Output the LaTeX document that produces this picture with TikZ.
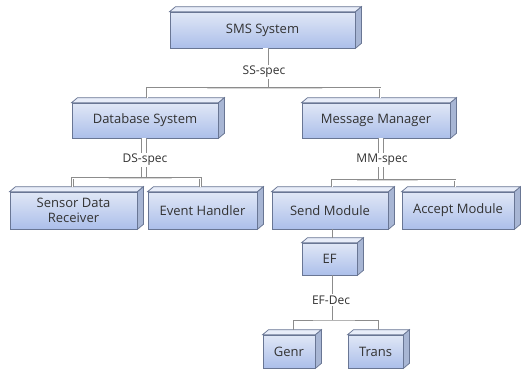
\documentclass[tikz,border=0pt]{standalone}
\usepackage{fontspec}
\setmainfont{Open Sans}
\usetikzlibrary{calc}

\definecolor{cubeline}{RGB}{105,118,148}
\definecolor{cubefronta}{RGB}{224,231,246}
\definecolor{cubefrontb}{RGB}{172,191,234}
\definecolor{cubetop}{RGB}{232,237,249}
\definecolor{cubeside}{RGB}{168,182,212}
\definecolor{wire}{RGB}{140,140,140}
\definecolor{inkgrey}{RGB}{50,50,50}

\tikzset{every picture/.style={line width=0.75pt}}
\tikzset{
  cube/.style={draw=cubeline, top color=cubefronta, bottom color=cubefrontb,
    inner sep=0pt, align=center, text=inkgrey,
    font=\fontsize{13}{15.5}\selectfont},
  speclabel/.style={fill=white, inner sep=1.5pt, text=inkgrey,
    font=\fontsize{12}{14}\selectfont},
  stem/.style={draw=wire, double=white, double distance=4.5pt},
  bus/.style={draw=wire, double=white, double distance=1pt},
  wireline/.style={draw=wire}
}

% top and right faces of a box
\newcommand{\cubefaces}[1]{%
  \filldraw[draw=cubeline, fill=cubeside] (#1.north east) -- ++(6,-5) -- ($(#1.south east)+(6,-5)$) -- (#1.south east) -- cycle;
  \filldraw[draw=cubeline, fill=cubetop] (#1.north west) -- ++(6,-5) -- ($(#1.north east)+(6,-5)$) -- (#1.north east) -- cycle;}

\begin{document}
\begin{tikzpicture}[x=1pt,y=1pt,yscale=-1,xscale=1]
\useasboundingbox (0,0) rectangle (521,372);

%Boxes
\node[cube, minimum width=185pt, minimum height=36pt] (sms) at (262.5,30) {SMS System};
\node[cube, minimum width=146pt, minimum height=35pt] (dbs) at (145,120.5) {Database System};
\node[cube, minimum width=148pt, minimum height=35pt] (mm) at (376,120.5) {Message Manager};
\node[cube, minimum width=127pt, minimum height=37pt] (sdr) at (73.5,210.5) {Sensor Data\\Receiver};
\node[cube, minimum width=109pt, minimum height=37pt] (evh) at (202.5,210.5) {Event Handler};
\node[cube, minimum width=116pt, minimum height=37pt] (send) at (330,210.5) {Send Module};
\node[cube, minimum width=112pt, minimum height=37pt] (accept) at (458,210.5) {Accept Module};
\node[cube, minimum width=55pt, minimum height=32pt] (ef) at (329.5,259) {EF};
\node[cube, minimum width=52pt, minimum height=33pt] (genr) at (289,351.5) {Genr};
\node[cube, minimum width=55pt, minimum height=33pt] (trans) at (375.5,351.5) {Trans};

\cubefaces{sms}
\cubefaces{dbs}
\cubefaces{mm}
\cubefaces{sdr}
\cubefaces{evh}
\cubefaces{send}
\cubefaces{accept}
\cubefaces{ef}
\cubefaces{genr}
\cubefaces{trans}

%Bus points
\coordinate (ssbus) at (265.5,88);
\coordinate (dsbus) at (144,178);
\coordinate (mmbus) at (381,180);
\coordinate (efbus) at (332,320);

%SS-spec
\draw[stem] (sms.south -| ssbus) -- (ssbus);
\draw[bus] ($(dbs.north)+(2,-5)$) |- (ssbus) -| ($(mm.north)+(4,-5)$);
\node[speclabel] (ssspec) at (264,72) {SS-spec};

%DS-spec
\draw[stem] (dbs.south -| dsbus) -- (dsbus);
\draw[bus] ($(sdr.north)+(-1,-5)$) |- (dsbus) -| ($(evh.north)+(-2,-5)$);
\node[speclabel] (dsspec) at (145,160) {DS-spec};

%MM-spec
\draw[stem] (mm.south -| mmbus) -- (mmbus);
\draw[bus] ($(send.north)+(2,-5)$) |- (mmbus) -| ($(accept.north)+(-3,-5)$);
\node[speclabel] (mmspec) at (382,160) {MM-spec};

%EF
\draw[wireline] (send.south -| efbus) -- ($(ef.north)+(2.5,-5)$);
\draw[wireline] (ef.south -| efbus) -- (efbus);
\draw[wireline] ($(genr.north)+(4,-5)$) |- (efbus) -| ($(trans.north)+(2.5,-5)$);
\node[speclabel] (efdec) at (331,300) {EF-Dec};

\end{tikzpicture}
\end{document}
